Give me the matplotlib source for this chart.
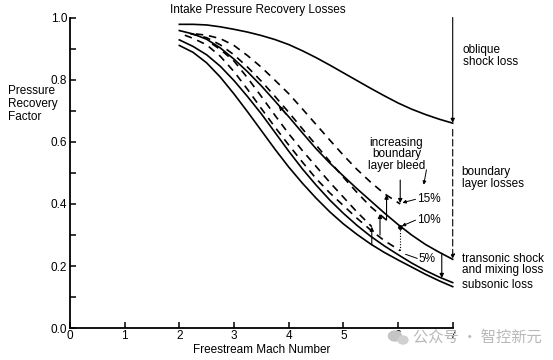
import matplotlib
matplotlib.use("Agg")
import matplotlib.pyplot as plt
from matplotlib.patches import Ellipse

plt.rcParams['font.family'] = ['Liberation Sans', 'DejaVu Sans']

# ---------------- data ----------------
title = "Intake Pressure Recovery Losses"
x_label = "Freestream Mach Number"
y_label = "Pressure\nRecovery\nFactor"
x_ticks = [0, 1, 2, 3, 4, 5, 6, 7]
y_major = [0.0, 0.2, 0.4, 0.6, 0.8, 1.0]
y_minor = [0.1, 0.3, 0.5, 0.7, 0.9]

mach = [2.0, 2.25, 2.5, 2.75, 3.0, 3.25, 3.5, 3.75, 4.0, 4.25, 4.5,
        4.75, 5.0, 5.25, 5.5, 5.75, 6.0, 6.25, 6.5, 6.75, 7.0]
oblique = [0.978, 0.978, 0.976, 0.970, 0.962, 0.953, 0.942, 0.929, 0.913, 0.893, 0.871,
           0.847, 0.822, 0.797, 0.772, 0.748, 0.725, 0.705, 0.688, 0.673, 0.660]
bl_loss = [0.958, 0.947, 0.930, 0.902, 0.866, 0.825, 0.780, 0.731, 0.681, 0.629, 0.578,
           0.532, 0.490, 0.449, 0.410, 0.371, 0.334, 0.300, 0.270, 0.245, 0.222]
transonic = [0.928, 0.907, 0.880, 0.843, 0.797, 0.745, 0.690, 0.630, 0.570, 0.513, 0.461,
             0.413, 0.370, 0.331, 0.296, 0.265, 0.237, 0.210, 0.186, 0.165, 0.147]
subsonic = [0.910, 0.888, 0.854, 0.808, 0.754, 0.696, 0.636, 0.576, 0.519, 0.467, 0.419,
            0.375, 0.336, 0.302, 0.271, 0.244, 0.220, 0.197, 0.174, 0.153, 0.134]

bleed15_m = [2.3, 2.5, 2.75, 3.0, 3.25, 3.5, 3.75, 4.0, 4.25, 4.5, 4.75, 5.0, 5.25, 5.5, 5.75, 6.04]
bleed15_p = [0.947, 0.943, 0.932, 0.910, 0.877, 0.840, 0.798, 0.755, 0.706, 0.656, 0.606,
             0.557, 0.511, 0.470, 0.433, 0.400]
bleedA_m = [2.2, 2.5, 2.75, 3.0, 3.25, 3.5, 3.75, 4.0, 4.25, 4.5, 4.75, 5.0, 5.25, 5.5, 5.79]
bleedA_p = [0.948, 0.935, 0.912, 0.880, 0.840, 0.795, 0.746, 0.695, 0.642, 0.590, 0.537,
            0.486, 0.437, 0.391, 0.348]
bleedB_m = [2.6, 2.75, 3.0, 3.25, 3.5, 3.75, 4.0, 4.25, 4.5, 4.75, 5.0, 5.25, 5.52]
bleedB_p = [0.915, 0.897, 0.860, 0.805, 0.746, 0.685, 0.626, 0.572, 0.521, 0.470, 0.422,
            0.374, 0.327]
bleed5_m = [2.1, 2.25, 2.5, 2.75, 3.0, 3.25, 3.5, 3.75, 4.0, 4.25, 4.5, 4.75, 5.0, 5.25,
            5.5, 5.75, 6.04]
bleed5_p = [0.943, 0.933, 0.912, 0.875, 0.826, 0.768, 0.707, 0.647, 0.590, 0.535, 0.482,
            0.436, 0.395, 0.354, 0.316, 0.282, 0.250]

# step arrows (mach, from, to)
steps = [(5.52, 0.268, 0.327), (5.67, 0.300, 0.368), (5.79, 0.348, 0.430)]

# ---------------- figure ----------------
W, H = 553, 360
fig = plt.figure(figsize=(W / 100, H / 100), dpi=100)
ax = fig.add_axes([70 / W, 31.7 / H, 382.7 / W, 310.8 / H])
ax.set_xlim(0, 7)
ax.set_ylim(0, 1.0)

for s in ['top', 'right']:
    ax.spines[s].set_visible(False)
for s in ['left', 'bottom']:
    ax.spines[s].set_linewidth(1.3)

ax.set_xticks(x_ticks)
ax.set_xticklabels([str(t) for t in x_ticks])
ax.set_yticks(y_major)
ax.set_yticklabels(["%.1f" % v for v in y_major])
ax.set_yticks(y_minor, minor=True)
ax.tick_params(axis='both', which='both', direction='in', length=4.5, width=1.1,
               labelsize=8.5, colors='black')
ax.tick_params(axis='x', pad=1)
ax.tick_params(axis='y', pad=2)

lw = 1.2
ax.plot(mach, oblique, color='black', lw=lw, clip_on=False)
ax.plot(mach, bl_loss, color='black', lw=lw, clip_on=False)
ax.plot(mach, transonic, color='black', lw=lw, clip_on=False)
ax.plot(mach, subsonic, color='black', lw=lw, clip_on=False)

for m, p in [(bleed15_m, bleed15_p), (bleedA_m, bleedA_p), (bleedB_m, bleedB_p), (bleed5_m, bleed5_p)]:
    line, = ax.plot(m, p, color='black', lw=lw, clip_on=False)
    line.set_dashes((4.5, 3.5))

def arrow(x0, y0, x1, y1, lw_=0.8, ms=6, style='-|>'):
    ax.annotate('', xy=(x1, y1), xytext=(x0, y0),
                arrowprops=dict(arrowstyle=style, lw=lw_, color='black',
                                mutation_scale=ms, shrinkA=0, shrinkB=0),
                annotation_clip=False)

for m, a, b in steps:
    arrow(m, a, m, b)

# arrow onto 15% curve end and dotted line at M=6
arrow(6.04, 0.477, 6.04, 0.403)
ax.plot([6.04, 6.04], [0.326, 0.25], color='black', lw=0.8, ls=(0, (1, 1.5)))
ax.plot([6.04], [0.326], 'o', color='black', ms=2.5)

# arrow head on boundary layer curve
arrow(3.95, 0.688, 3.82, 0.716, lw_=0.6, ms=7)

# right-hand vertical loss indicators at M=7
arrow(7.0, 1.0, 7.0, 0.661, lw_=0.8)
ax.annotate('', xy=(7.0, 0.224), xytext=(7.0, 0.64),
            arrowprops=dict(arrowstyle='-|>', lw=0.8, color='black', ls=(0, (6, 3)),
                            mutation_scale=6, shrinkA=0, shrinkB=0),
            annotation_clip=False)
arrow(6.8, 0.242, 6.8, 0.162)

# labels
fs = 8.5
ax.text(7.18, 0.876, "oblique\nshock loss", fontsize=fs, ha='left', va='center',
        linespacing=1.0, clip_on=False)
ax.text(7.165, 0.483, "boundary\nlayer losses", fontsize=fs, ha='left', va='center',
        linespacing=1.0, clip_on=False)
ax.text(7.165, 0.205, "transonic shock\nand mixing loss", fontsize=fs, ha='left', va='center',
        linespacing=0.9, clip_on=False)
ax.text(7.165, 0.140, "subsonic loss", fontsize=fs, ha='left', va='center', clip_on=False)
ax.text(5.97, 0.56, "increasing\nboundary\nlayer bleed", fontsize=fs, ha='center', va='center',
        linespacing=0.95)
arrow(6.52, 0.51, 6.47, 0.462, lw_=0.7, ms=5)

ax.text(6.34, 0.415, "15%", fontsize=fs, ha='left', va='center')
arrow(6.32, 0.415, 6.08, 0.404, lw_=0.7, ms=5)
ax.text(6.34, 0.348, "10%", fontsize=fs, ha='left', va='center')
arrow(6.32, 0.348, 6.07, 0.329, lw_=0.7, ms=5)
ax.text(6.38, 0.222, "5%", fontsize=fs, ha='left', va='center')
ax.plot([6.35, 6.14], [0.225, 0.238], color='black', lw=0.7)

fig.text(258 / W, 1 - 10 / H, title, fontsize=8.5, ha='center', va='center')
fig.text(8 / W, 1 - 104 / H, y_label, fontsize=8.5, ha='left', va='center', linespacing=1.15)
ax.set_xlabel(x_label, fontsize=8.5, labelpad=2)

# watermark
fig.text(413 / W, 1 - 337 / H, "公众号 · 智控新元", fontsize=11, color='#b8b8b8',
         ha='left', va='center', family=['Noto Sans CJK SC', 'DejaVu Sans'])
fig.patches.append(Ellipse((395 / W, 1 - 336 / H), 13 / W, 10 / H, transform=fig.transFigure,
                           color='#c4c4c4', zorder=5))
fig.patches.append(Ellipse((403 / W, 1 - 340 / H), 10 / W, 8 / H, transform=fig.transFigure,
                           color='#d0d0d0', zorder=5))

fig.savefig("out.png", dpi=100)
